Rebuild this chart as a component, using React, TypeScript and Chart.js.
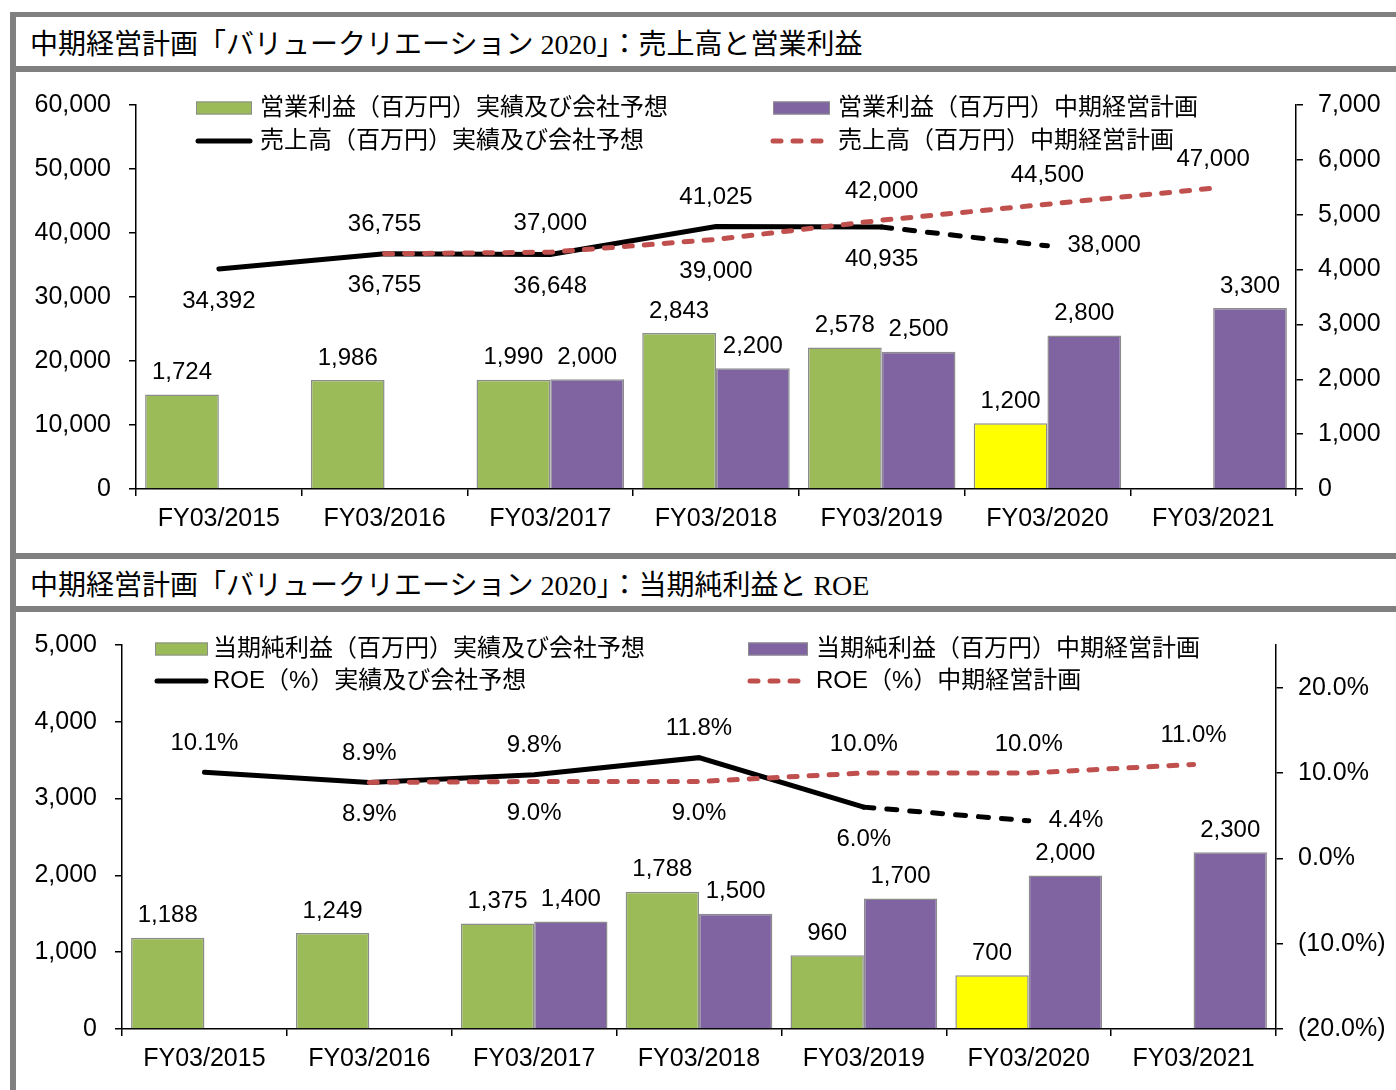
import React, { useEffect, useRef } from 'react';
import { Chart, registerables } from 'chart.js';

Chart.register(...registerables);

// ---------- DATA ----------
const categories = ['FY03/2015', 'FY03/2016', 'FY03/2017', 'FY03/2018', 'FY03/2019', 'FY03/2020', 'FY03/2021'];

// Chart 1: sales (left axis, million yen) and operating profit (right axis, million yen)
const opProfitActual = [1724, 1986, 1990, 2843, 2578, 1200, null];
const opProfitPlan = [null, null, 2000, 2200, 2500, 2800, 3300];
const salesActual = [34392, 36755, 36648, 41025, 40935, 38000, null];
const salesPlan = [null, 36755, 37000, 39000, 42000, 44500, 47000];

// Chart 2: net income (left axis, million yen) and ROE (right axis, %)
const netIncomeActual = [1188, 1249, 1375, 1788, 960, 700, null];
const netIncomePlan = [null, null, 1400, 1500, 1700, 2000, 2300];
const roeActual = [10.1, 8.9, 9.8, 11.8, 6.0, 4.4, null];
const roePlan = [null, 8.9, 9.0, 9.0, 10.0, 10.0, 11.0];

// index of the company-forecast year (FY03/2020)
const forecastIndex = 5;

// axis ticks
const salesAxis = { min: 0, max: 60000, step: 10000 };
const opProfitAxis = { min: 0, max: 7000, step: 1000 };
const netIncomeAxis = { min: 0, max: 5000, step: 1000 };
const roeAxis = { min: -20, max: 25, step: 10 };

// label placement for line values
const salesActualPos = ['below', 'below', 'below', 'above', 'below', 'right', null];
const salesPlanPos = [null, 'above', 'above', 'below', 'above', 'above', 'above'];
const roeActualPos = ['above', 'above', 'above', 'above', 'below', 'right', null];
const roePlanPos = [null, 'below', 'below', 'below', 'above', 'above', 'above'];

// legend texts
const legend1 = ['営業利益（百万円）実績及び会社予想', '営業利益（百万円）中期経営計画', '売上高（百万円）実績及び会社予想', '売上高（百万円）中期経営計画'];
const legend2 = ['当期純利益（百万円）実績及び会社予想', '当期純利益（百万円）中期経営計画', 'ROE（%）実績及び会社予想', 'ROE（%）中期経営計画'];
const title1 = '中期経営計画「バリュークリエーション 2020」：売上高と営業利益';
const title2 = '中期経営計画「バリュークリエーション 2020」：当期純利益と ROE';

// ---------- STYLE ----------
const GREEN = '#9BBB59';
const PURPLE = '#8064A2';
const YELLOW = '#FFFF00';
const RED = '#C0504D';
const BAR_BORDER = '#8c8c8c';
const FRAME = '#808080';
const SANS = '"Liberation Sans", Arial, sans-serif';
const CJK = '"Liberation Sans", "Noto Sans CJK JP", sans-serif';

const fmtNum = (v: number) => v.toLocaleString('en-US');
const fmtPct = (v: number) => (v < 0 ? `(${Math.abs(v).toFixed(1)}%)` : `${v.toFixed(1)}%`);

const valueLabelPlugin = {
  id: 'valueLabels',
  afterDatasetsDraw(chart: any) {
    const ctx = chart.ctx;
    ctx.save();
    ctx.font = `24px ${SANS}`;
    ctx.fillStyle = '#000';
    chart.data.datasets.forEach((ds: any, di: number) => {
      const meta = chart.getDatasetMeta(di);
      meta.data.forEach((el: any, i: number) => {
        const v = ds.data[i];
        if (v == null) return;
        const p = ds.labelPos ? ds.labelPos[i] : 'bar';
        if (!p) return;
        let x = el.x;
        let y = el.y;
        ctx.textAlign = 'center';
        ctx.textBaseline = 'middle';
        if (p === 'bar') y -= 22;
        else if (p === 'above') y -= 29;
        else if (p === 'below') y += 32;
        else if (p === 'right') {
          x += 20;
          ctx.textAlign = 'left';
        }
        ctx.fillText(ds.labelFmt(v), x, y);
      });
    });
    ctx.restore();
  },
};

type LegendItem = { kind: 'box' | 'line' | 'dash'; color: string; x: number; y: number; w: number; tx: number; text: string };

const makeLegendPlugin = (items: LegendItem[]) => ({
  id: 'customLegend',
  afterDraw(chart: any) {
    const ctx = chart.ctx;
    ctx.save();
    items.forEach((it) => {
      if (it.kind === 'box') {
        ctx.fillStyle = it.color;
        ctx.fillRect(it.x, it.y - 6.5, it.w, 13);
        ctx.strokeStyle = BAR_BORDER;
        ctx.lineWidth = 1;
        ctx.strokeRect(it.x + 0.5, it.y - 6, it.w - 1, 12);
      } else {
        ctx.strokeStyle = it.color;
        ctx.lineWidth = 5;
        ctx.lineCap = 'round';
        ctx.setLineDash(it.kind === 'dash' ? [8, 12] : []);
        ctx.beginPath();
        ctx.moveTo(it.x + 2, it.y);
        ctx.lineTo(it.x + it.w - 2, it.y);
        ctx.stroke();
        ctx.setLineDash([]);
      }
      ctx.fillStyle = '#000';
      ctx.font = `24px ${CJK}`;
      ctx.textAlign = 'left';
      ctx.textBaseline = 'middle';
      ctx.fillText(it.text, it.tx, it.y);
    });
    ctx.restore();
  },
});

const axisCommon = (font = 25) => ({
  grid: { drawOnChartArea: false, drawTicks: true, tickLength: 7, color: '#000', lineWidth: 1.5 },
  border: { display: true, color: '#000', width: 1.5 },
  ticks: { color: '#000', font: { family: SANS, size: font } },
});

const keepStepTicks = (ax: { min: number; max: number; step: number }) => (s: any) => {
  s.ticks = s.ticks.filter((t: any) => Math.abs(((t.value - ax.min) / ax.step) - Math.round((t.value - ax.min) / ax.step)) < 1e-6);
};

function buildConfig(opts: {
  barA: (number | null)[];
  barP: (number | null)[];
  lineA: (number | null)[];
  lineP: (number | null)[];
  posA: (string | null)[];
  posP: (string | null)[];
  leftAxis: { min: number; max: number; step: number };
  rightAxis: { min: number; max: number; step: number };
  lineOnRight: boolean;
  leftFmt: (v: number) => string;
  rightFmt: (v: number) => string;
  lineFmt: (v: number) => string;
  leftW: number;
  rightW: number;
  xH: number;
  padTop: number;
  legend: LegendItem[];
}): any {
  const lineAxis = opts.lineOnRight ? 'yR' : 'yL';
  const barAxis = opts.lineOnRight ? 'yL' : 'yR';
  return {
    type: 'bar',
    data: {
      labels: categories,
      datasets: [
        {
          type: 'line',
          data: opts.lineP,
          yAxisID: lineAxis,
          borderColor: RED,
          borderWidth: 5,
          borderDash: [8, 12],
          borderCapStyle: 'round',
          pointRadius: 0,
          tension: 0,
          fill: false,
          order: 0,
          labelPos: opts.posP,
          labelFmt: opts.lineFmt,
        },
        {
          type: 'line',
          data: opts.lineA,
          yAxisID: lineAxis,
          borderColor: '#000',
          borderWidth: 5,
          borderCapStyle: 'round',
          pointRadius: 0,
          tension: 0,
          fill: false,
          order: 1,
          segment: {
            borderDash: (c: any) => (c.p0DataIndex >= forecastIndex - 1 ? [10, 13] : undefined),
          },
          labelPos: opts.posA,
          labelFmt: opts.lineFmt,
        },
        {
          type: 'bar',
          data: opts.barA,
          yAxisID: barAxis,
          backgroundColor: categories.map((_, i) => (i === forecastIndex ? YELLOW : GREEN)),
          borderColor: BAR_BORDER,
          borderWidth: 1.5,
          categoryPercentage: 0.89,
          barPercentage: 1,
          order: 2,
          labelPos: null,
          labelFmt: fmtNum,
        },
        {
          type: 'bar',
          data: opts.barP,
          yAxisID: barAxis,
          backgroundColor: PURPLE,
          borderColor: BAR_BORDER,
          borderWidth: 1.5,
          categoryPercentage: 0.89,
          barPercentage: 1,
          order: 3,
          labelPos: null,
          labelFmt: fmtNum,
        },
      ],
    },
    options: {
      animation: false,
      responsive: false,
      devicePixelRatio: 1,
      layout: { padding: { top: opts.padTop, left: 0, right: 0, bottom: 0 } },
      plugins: { legend: { display: false }, tooltip: { enabled: false } },
      scales: {
        x: {
          ...axisCommon(25),
          grid: { ...axisCommon().grid, offset: true },
          ticks: { ...axisCommon(25).ticks, padding: 8, maxRotation: 0, autoSkip: false },
          afterFit: (s: any) => {
            s.height = opts.xH;
          },
        },
        yL: {
          ...axisCommon(25),
          position: 'left',
          min: opts.leftAxis.min,
          max: opts.leftAxis.max,
          bounds: 'data',
          ticks: { ...axisCommon(25).ticks, stepSize: opts.leftAxis.step, padding: 18, callback: (v: number) => opts.leftFmt(v) },
          afterBuildTicks: keepStepTicks(opts.leftAxis),
          afterFit: (s: any) => {
            s.width = opts.leftW;
          },
        },
        yR: {
          ...axisCommon(25),
          position: 'right',
          min: opts.rightAxis.min,
          max: opts.rightAxis.max,
          bounds: 'data',
          ticks: { ...axisCommon(25).ticks, stepSize: opts.rightAxis.step, padding: 15, callback: (v: number) => opts.rightFmt(v) },
          afterBuildTicks: keepStepTicks(opts.rightAxis),
          afterFit: (s: any) => {
            s.width = opts.rightW;
          },
        },
      },
    },
    plugins: [valueLabelPlugin, makeLegendPlugin(opts.legend)],
  };
}

function ChartCanvas({ make, width, height }: { make: () => any; width: number; height: number }) {
  const ref = useRef<HTMLCanvasElement>(null);
  useEffect(() => {
    const chart = new Chart(ref.current as HTMLCanvasElement, make());
    return () => chart.destroy();
  }, []);
  return <canvas ref={ref} width={width} height={height} style={{ display: 'block', width, height }} />;
}

const config1 = () =>
  buildConfig({
    barA: opProfitActual,
    barP: opProfitPlan,
    lineA: salesActual,
    lineP: salesPlan,
    posA: salesActualPos,
    posP: salesPlanPos,
    leftAxis: salesAxis,
    rightAxis: opProfitAxis,
    lineOnRight: false,
    leftFmt: fmtNum,
    rightFmt: fmtNum,
    lineFmt: fmtNum,
    leftW: 121,
    rightW: 100,
    xH: 64,
    padTop: 25,
    legend: [
      { kind: 'box', color: GREEN, x: 181, y: 36, w: 56, tx: 245, text: legend1[0] },
      { kind: 'box', color: PURPLE, x: 758, y: 36, w: 57, tx: 823, text: legend1[1] },
      { kind: 'line', color: '#000', x: 181, y: 69, w: 56, tx: 245, text: legend1[2] },
      { kind: 'dash', color: RED, x: 756, y: 69, w: 59, tx: 823, text: legend1[3] },
    ],
  });

const config2 = () =>
  buildConfig({
    barA: netIncomeActual,
    barP: netIncomePlan,
    lineA: roeActual,
    lineP: roePlan,
    posA: roeActualPos,
    posP: roePlanPos,
    leftAxis: netIncomeAxis,
    rightAxis: roeAxis,
    lineOnRight: true,
    leftFmt: fmtNum,
    rightFmt: fmtPct,
    lineFmt: fmtPct,
    leftW: 107,
    rightW: 120,
    xH: 61,
    padTop: 27,
    legend: [
      { kind: 'box', color: GREEN, x: 140, y: 37, w: 53, tx: 198, text: legend2[0] },
      { kind: 'box', color: PURPLE, x: 733, y: 37, w: 60, tx: 801, text: legend2[1] },
      { kind: 'line', color: '#000', x: 140, y: 69, w: 53, tx: 198, text: legend2[2] },
      { kind: 'dash', color: RED, x: 733, y: 69, w: 56, tx: 801, text: legend2[3] },
    ],
  });

const band = (top: number, height: number): React.CSSProperties => ({
  position: 'absolute',
  left: 10,
  right: 0,
  top,
  height,
  background: FRAME,
});

const titleStyle = (top: number, height: number): React.CSSProperties => ({
  position: 'absolute',
  left: 16,
  right: 0,
  top,
  height,
  display: 'flex',
  alignItems: 'center',
  paddingLeft: 14,
  fontFamily: '"Liberation Serif", "Noto Sans CJK JP", serif',
  fontSize: 28,
  color: '#000',
  whiteSpace: 'nowrap',
});

export default function App() {
  return (
    <div style={{ position: 'absolute', left: 0, top: 0, width: 1396, height: 1090, overflow: 'hidden', background: '#fff' }}>
      <div style={{ position: 'absolute', left: 10, width: 6, top: 12, bottom: 0, background: FRAME }} />
      <div style={band(12, 5)} />
      <div style={titleStyle(17, 49)}>{title1}</div>
      <div style={band(66, 6)} />
      <div style={{ position: 'absolute', left: 15, top: 72 }}>
        <ChartCanvas make={config1} width={1381} height={481} />
      </div>
      <div style={band(553, 6)} />
      <div style={titleStyle(559, 47)}>{title2}</div>
      <div style={band(606, 6)} />
      <div style={{ position: 'absolute', left: 15, top: 612 }}>
        <ChartCanvas make={config2} width={1381} height={478} />
      </div>
    </div>
  );
}
